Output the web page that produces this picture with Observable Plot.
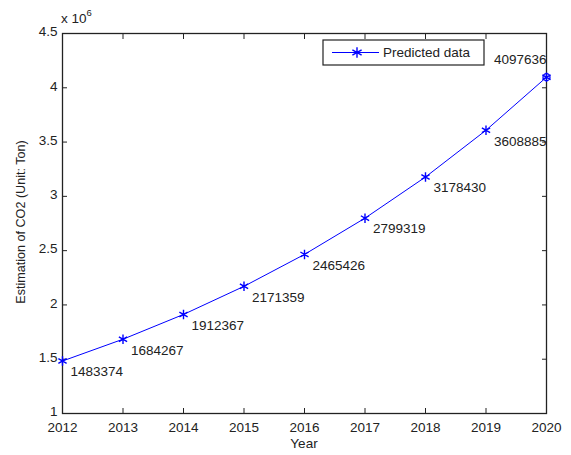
<!DOCTYPE html>
<html>
<head>
<meta charset="utf-8">
<script src="https://cdn.jsdelivr.net/npm/d3@7"></script>
<script src="https://cdn.jsdelivr.net/npm/@observablehq/plot@0.6"></script>
<style>
  html, body { margin: 0; padding: 0; background: #fff; }
  #chart { position: relative; width: 571px; height: 455px; }
  svg { font-family: "Liberation Sans", Arial, sans-serif; }
</style>
</head>
<body>
<div id="chart"></div>
<script>
const years = [2012, 2013, 2014, 2015, 2016, 2017, 2018, 2019, 2020];
const co2 = [1483374, 1684267, 1912367, 2171359, 2465426, 2799319, 3178430, 3608885, 4097636];
const yTicks = [1, 1.5, 2, 2.5, 3, 3.5, 4, 4.5];
const seriesName = "Predicted data";
const xLabel = "Year";
const yLabel = "Estimation of CO2 (Unit: Ton)";

const data = years.map((y, i) => ({year: y, value: co2[i]}));
const inner = data.slice(0, -1);
const last = data.slice(-1);
const blue = "#0000ff";
const ink = "#222";
const fs = 13.5;
const yTickValues = yTicks.map(t => t * 1e6);

const W = 571, H = 455;
const plot = Plot.plot({
  width: W,
  height: H,
  marginLeft: 62,
  marginRight: 25,
  marginTop: 33,
  marginBottom: 42,
  style: {fontFamily: "Liberation Sans, Arial, sans-serif", fontSize: fs + "px", color: ink, background: "#fff"},
  x: {domain: [2012, 2020]},
  y: {domain: [1e6, 4.5e6]},
  marks: [
    Plot.frame({stroke: ink, strokeWidth: 1.3}),
    Plot.axisX({anchor: "bottom", ticks: years, tickFormat: d3.format("d"), tickSize: -5, tickPadding: 14, label: null, fontSize: fs, stroke: ink, fill: ink}),
    Plot.axisX({anchor: "top", ticks: years, tickFormat: () => "", tickSize: -5, label: null, stroke: ink}),
    Plot.axisY({anchor: "left", ticks: yTickValues, tickFormat: () => "", tickSize: -5, label: null, stroke: ink}),
    Plot.axisY({anchor: "left", ticks: yTickValues, tickFormat: d => d3.format("")(d / 1e6), tickSize: 0, tickPadding: 5, dy: -1.5, label: null, fontSize: fs, fill: ink}),
    Plot.axisY({anchor: "right", ticks: yTickValues, tickFormat: () => "", tickSize: -5, label: null, stroke: ink}),
    Plot.line(data, {x: "year", y: "value", stroke: blue, strokeWidth: 1}),
    Plot.dot(data, {x: "year", y: "value", symbol: "asterisk", stroke: blue, r: 4.5, strokeWidth: 1.4}),
    Plot.dot(last, {x: "year", y: "value", symbol: "circle", stroke: blue, fill: "none", r: 3.5, strokeWidth: 1.3}),
    Plot.text(inner, {x: "year", y: "value", text: d => String(d.value), textAnchor: "start", dx: 8, dy: 11, fontSize: fs, fill: ink}),
    Plot.text(last, {x: "year", y: "value", text: d => String(d.value), textAnchor: "end", dx: 0, dy: -18, fontSize: fs, fill: ink})
  ]
});

document.getElementById("chart").appendChild(plot);

const svg = d3.select(plot);
// exponent label
const exp = svg.append("text").attr("x", 61).attr("y", 23).attr("text-anchor", "start").attr("font-size", fs).attr("fill", ink);
exp.append("tspan").text("x 10");
exp.append("tspan").attr("dy", -7).attr("font-size", 9.5).text("6");
// axis titles
svg.append("text").attr("x", 304).attr("y", 448).attr("text-anchor", "middle").attr("font-size", fs).attr("fill", ink).text(xLabel);
svg.append("text").attr("transform", "translate(25,222) rotate(-90)").attr("text-anchor", "middle").attr("font-size", 12.6).attr("fill", ink).text(yLabel);
// legend
const lg = svg.append("g").attr("transform", "translate(323,40)");
lg.append("rect").attr("x", 0).attr("y", 0).attr("width", 161).attr("height", 25).attr("fill", "#fff").attr("stroke", ink).attr("stroke-width", 1.2);
lg.append("line").attr("x1", 9).attr("x2", 56).attr("y1", 12.5).attr("y2", 12.5).attr("stroke", blue).attr("stroke-width", 1);
const sym = d3.symbol(d3.symbolAsterisk, 80)();
lg.append("path").attr("d", sym).attr("transform", "translate(34,12.5)").attr("stroke", blue).attr("fill", "none").attr("stroke-width", 1.4);
lg.append("text").attr("x", 60).attr("y", 17).attr("text-anchor", "start").attr("font-size", fs).attr("fill", ink).text(seriesName);
</script>
</body>
</html>
